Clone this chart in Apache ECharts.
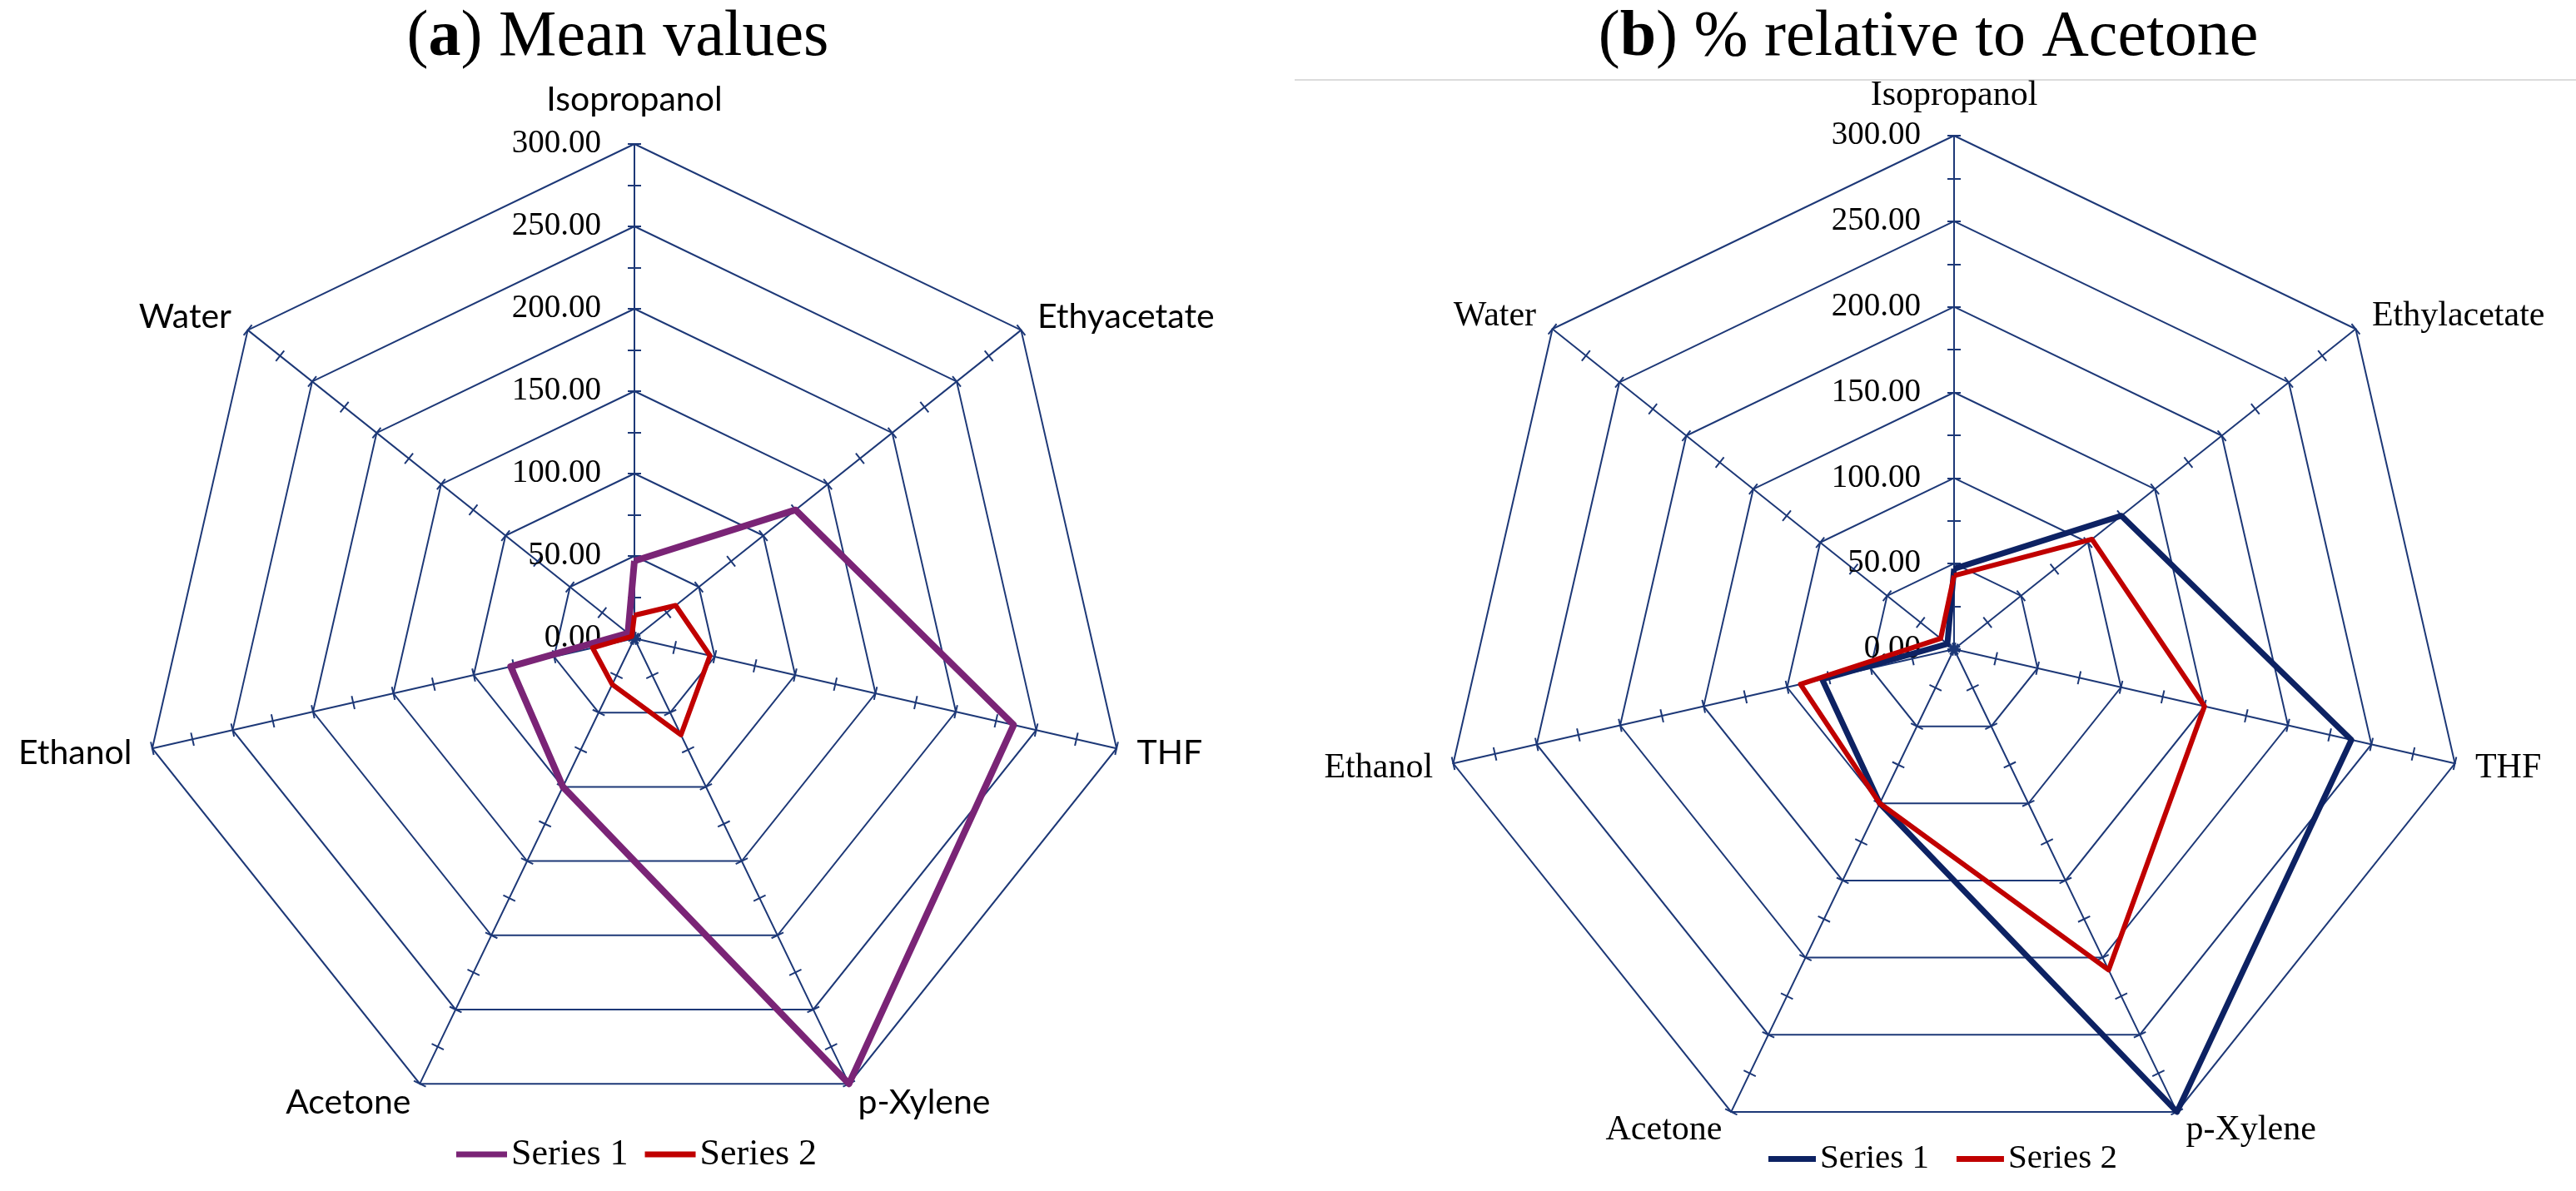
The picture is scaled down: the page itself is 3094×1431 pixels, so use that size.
<!DOCTYPE html>
<html><head><meta charset="utf-8">
<script src="https://cdn.jsdelivr.net/npm/echarts@6/dist/echarts.min.js"></script>
<style>html,body{margin:0;padding:0;background:#fff}#c{width:3094px;height:1431px}</style>
</head><body><div id="c"></div>
<script>
// ---- data (clockwise from top, as in the reference) ----
const categoriesA = ['Isopropanol', 'Ethyacetate', 'THF', 'p-Xylene', 'Acetone', 'Ethanol', 'Water'];
const categoriesB = ['Isopropanol', 'Ethylacetate', 'THF', 'p-Xylene', 'Acetone', 'Ethanol', 'Water'];
const meanSeries1 = [47, 125, 236, 300, 100, 77, 5];
const meanSeries2 = [14, 32, 47, 65, 31, 26, 2];
const relSeries1 = [47, 125, 238, 300, 100, 79, 5];
const relSeries2 = [43, 103, 150, 208, 100, 92, 10];
const seriesNames = ['Series 1', 'Series 2'];
const axisMin = 0, axisMax = 300, tickStep = 25, labelStep = 50;
const titleA = 'Mean values', titleB = '% relative to Acetone';

// ECharts lays radar axes counter-clockwise; the reference runs clockwise
const cw = arr => [arr[0]].concat(arr.slice(1).reverse());

const GRID = '#1d3877', PURPLE = '#7a2476', RED = '#c00000', NAVY = '#0d2263';
const SERIF = 'Liberation Serif';

function radars(center, radius, names, nameFont, nameSize, labelSize, topGap) {
  const split = (axisMax - axisMin) / tickStep;
  const main = {
    center: center, radius: radius, startAngle: 90, shape: 'polygon', splitNumber: split,
    indicator: cw(names).map((n, i) => i === 0
      ? { name: n, min: axisMin, max: axisMax, nameGap: topGap, axisLabel: { show: true } }
      : { name: n, min: axisMin, max: axisMax }),
    nameGap: 25,
    axisName: { color: '#000', fontSize: nameSize, fontFamily: nameFont },
    axisLine: { show: true, lineStyle: { color: GRID, width: 2 } },
    axisTick: { show: true, length: 8, lineStyle: { color: GRID, width: 2 } },
    axisLabel: { show: false, margin: 40, color: '#000', fontSize: labelSize, fontFamily: SERIF,
      formatter: v => (Math.round(v) % labelStep === 0 ? Number(v).toFixed(2) : '') },
    splitLine: { show: true, lineStyle: { color: [GRID, 'rgba(0,0,0,0)'], width: 2 } },
    splitArea: { show: false }
  };
  const overlay = {
    center: center, radius: radius, startAngle: 90, shape: 'polygon', splitNumber: split,
    indicator: names.map(() => ({ name: '', min: axisMin, max: axisMax })),
    axisName: { show: false },
    axisLine: { show: false },
    axisTick: { show: true, length: -8, lineStyle: { color: GRID, width: 2 } },
    axisLabel: { show: false },
    splitLine: { show: false },
    splitArea: { show: false }
  };
  return [main, overlay];
}

const chart = echarts.init(document.getElementById('c'));
const option = {
  backgroundColor: '#fff',
  animation: false,
  title: [
    { text: '{n|(}{b|a}{n|) ' + titleA + '}', left: 742, top: 7, textAlign: 'center', padding: 0,
      textStyle: { fontFamily: SERIF, fontSize: 78, color: '#000', fontWeight: 'normal',
        rich: { n: { fontFamily: SERIF, fontSize: 78, color: '#000' },
                b: { fontFamily: SERIF, fontSize: 78, color: '#000', fontWeight: 'bold' } } } },
    { text: '{n|(}{b|b}{n|) ' + titleB + '}', left: 2316, top: 7, textAlign: 'center', padding: 0,
      textStyle: { fontFamily: SERIF, fontSize: 78, color: '#000', fontWeight: 'normal',
        rich: { n: { fontFamily: SERIF, fontSize: 78, color: '#000' },
                b: { fontFamily: SERIF, fontSize: 78, color: '#000', fontWeight: 'bold' } } } }
  ],
  graphic: [
    { type: 'line', shape: { x1: 1555, y1: 96, x2: 3094, y2: 96 }, style: { stroke: '#dcdcdc', lineWidth: 2 } }
  ],
  legend: [
    { left: 548, top: 1365, padding: 0, itemWidth: 61, itemHeight: 7, itemGap: 20, icon: 'rect',
      selectedMode: false,
      textStyle: { fontFamily: SERIF, fontSize: 44, color: '#000' },
      data: [{ name: seriesNames[0], itemStyle: { color: PURPLE } },
             { name: seriesNames[1], itemStyle: { color: RED } }] },
    { left: 2124, top: 1372, padding: 0, itemWidth: 57, itemHeight: 7, itemGap: 33, icon: 'rect',
      selectedMode: false,
      textStyle: { fontFamily: SERIF, fontSize: 41, color: '#000' },
      data: [{ name: seriesNames[0], itemStyle: { color: NAVY } },
             { name: seriesNames[1], itemStyle: { color: RED } }] }
  ],
  radar: [].concat(
    radars([762, 767], 594, categoriesA, 'Lato', 41, 39, 33),
    radars([2347, 780], 617, categoriesB, SERIF, 42, 39, 27)
  ),
  series: [
    { type: 'radar', radarIndex: 0, symbol: 'none', silent: true,
      data: [
        { name: seriesNames[0], value: cw(meanSeries1), lineStyle: { color: PURPLE, width: 8 }, itemStyle: { color: PURPLE } },
        { name: seriesNames[1], value: cw(meanSeries2), lineStyle: { color: RED, width: 6 }, itemStyle: { color: RED } }
      ] },
    { type: 'radar', radarIndex: 2, symbol: 'none', silent: true,
      data: [
        { name: seriesNames[0], value: cw(relSeries1), lineStyle: { color: NAVY, width: 7 }, itemStyle: { color: NAVY } },
        { name: seriesNames[1], value: cw(relSeries2), lineStyle: { color: RED, width: 6 }, itemStyle: { color: RED } }
      ] }
  ]
};
chart.setOption(option);
</script>
</body></html>
